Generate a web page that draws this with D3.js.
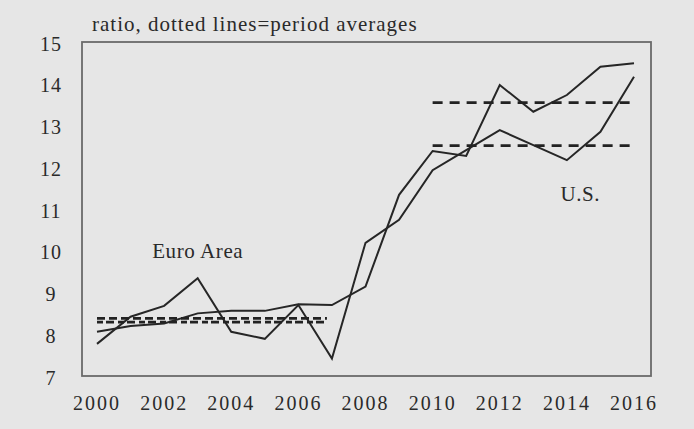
<!DOCTYPE html>
<html><head><meta charset="utf-8">
<script src="https://cdn.jsdelivr.net/npm/d3@7"></script>
<style>
html,body{margin:0;padding:0;background:#e6e6e6;}
svg{display:block;}
text{font-family:"Liberation Serif","DejaVu Serif",serif;fill:#2a2a2a;}
</style></head><body>
<svg id="c" width="694" height="429"></svg>
<script>
const years = [2000,2001,2002,2003,2004,2005,2006,2007,2008,2009,2010,2011,2012,2013,2014,2015,2016];
const seriesA = [7.77,8.42,8.68,9.34,8.06,7.89,8.70,7.42,10.19,10.74,11.93,12.41,12.89,12.53,12.17,12.85,14.17];
const seriesB = [8.06,8.20,8.26,8.50,8.56,8.56,8.72,8.70,9.14,11.34,12.39,12.27,13.97,13.33,13.73,14.41,14.49];
const earlyPeriod = [2000,2007];
const earlyAverages = [8.38,8.29];
const latePeriod = [2010,2016];
const lateAverages = [13.55,12.52];
const yTicks = [7,8,9,10,11,12,13,14,15];
const xTicks = [2000,2002,2004,2006,2008,2010,2012,2014,2016];
const title = "ratio, dotted lines=period averages";
const labels = [{text:"Euro Area", year:2003, value:9.95},{text:"U.S.", year:2014.4, value:11.3}];

const svg = d3.select("#c");
const box = {l:82, r:651, t:42, b:376};
const x = d3.scaleLinear().domain([2000,2016]).range([97,634]);
const y = d3.scaleLinear().domain([7,15]).range([box.b, box.t]);

svg.append("rect").attr("x",0).attr("y",0).attr("width",694).attr("height",429).attr("fill","#e6e6e6");

// frame
svg.append("rect").attr("x",box.l).attr("y",box.t).attr("width",box.r-box.l).attr("height",box.b-box.t)
  .attr("fill","none").attr("stroke","#6a6a6a").attr("stroke-width",1.8);

// y labels
svg.append("g").selectAll("text").data(yTicks).join("text")
  .attr("x",51).attr("y",d=>y(d)+4).attr("text-anchor","middle").attr("dominant-baseline","middle")
  .attr("font-size",20).attr("letter-spacing",1).text(d=>d);

// x labels
svg.append("g").selectAll("text").data(xTicks).join("text")
  .attr("x",d=>x(d)).attr("y",405).attr("text-anchor","middle").attr("dominant-baseline","middle")
  .attr("font-size",20).attr("letter-spacing",2).text(d=>d);

// title
svg.append("text").attr("x",92).attr("y",31).attr("font-size",21).attr("letter-spacing",1).text(title);

const line = d3.line().x((d,i)=>x(years[i])).y(d=>y(d));
[seriesA, seriesB].forEach(s=>{
  svg.append("path").datum(s).attr("d",line).attr("fill","none").attr("stroke","#262626")
    .attr("stroke-width",2).attr("stroke-linejoin","miter");
});

earlyAverages.forEach((v,i)=>{
  svg.append("line").attr("x1",x(earlyPeriod[0])).attr("x2",x(earlyPeriod[1])-5)
    .attr("y1",y(v)).attr("y2",y(v)).attr("stroke","#222").attr("stroke-width",2.6)
    .attr("stroke-dasharray", i===0 ? "8,4" : "6,3,8,4");
});
lateAverages.forEach(v=>{
  svg.append("line").attr("x1",x(latePeriod[0])).attr("x2",x(latePeriod[1])-4)
    .attr("y1",y(v)).attr("y2",y(v)).attr("stroke","#222").attr("stroke-width",2.8)
    .attr("stroke-dasharray","10,7");
});

svg.append("g").selectAll("text").data(labels).join("text")
  .attr("x",d=>x(d.year)).attr("y",d=>y(d.value)).attr("text-anchor","middle").attr("dominant-baseline","middle")
  .attr("font-size",21).attr("letter-spacing",0.6).text(d=>d.text);
</script>
</body></html>
